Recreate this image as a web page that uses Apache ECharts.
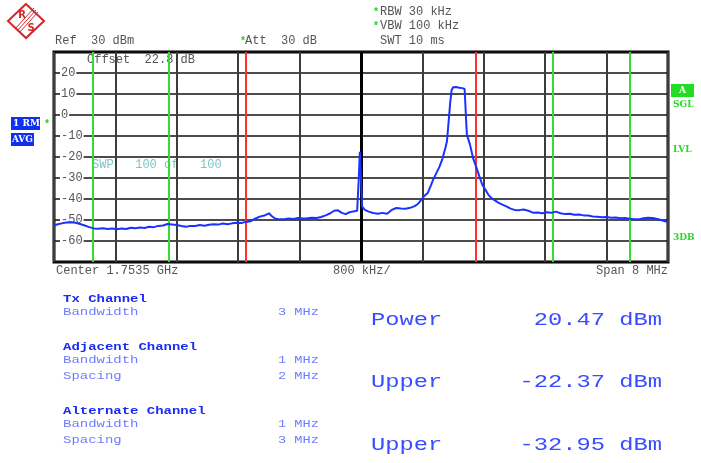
<!DOCTYPE html>
<html><head><meta charset="utf-8">
<script src="https://cdn.jsdelivr.net/npm/echarts@6/dist/echarts.min.js"></script>
<style>html,body{margin:0;padding:0;background:#fff}#c{width:701px;height:463px}</style>
</head><body><div id="c"></div>
<script>
// ---- data (frequency offset from center in MHz, level in dBm) ----
const freqMHz = [-4.00,-3.95,-3.90,-3.84,-3.78,-3.72,-3.66,-3.60,-3.54,-3.48,-3.42,-3.36,-3.30,-3.24,-3.18,-3.12,-3.06,-3.00,-2.94,-2.88,-2.82,-2.76,-2.70,-2.64,-2.58,-2.52,-2.46,-2.40,-2.34,-2.28,-2.22,-2.16,-2.10,-2.04,-1.98,-1.92,-1.86,-1.80,-1.74,-1.68,-1.62,-1.56,-1.50,-1.44,-1.38,-1.32,-1.26,-1.20,-1.16,-1.12,-1.06,-1.00,-0.94,-0.88,-0.82,-0.76,-0.70,-0.64,-0.58,-0.52,-0.46,-0.40,-0.35,-0.30,-0.25,-0.20,-0.15,-0.10,-0.05,-0.03,-0.015,0.00,0.015,0.05,0.10,0.16,0.22,0.28,0.34,0.40,0.46,0.52,0.58,0.64,0.70,0.74,0.78,0.82,0.87,0.91,0.94,0.98,1.02,1.06,1.10,1.12,1.14,1.16,1.18,1.20,1.24,1.28,1.32,1.35,1.36,1.37,1.38,1.42,1.46,1.50,1.54,1.58,1.62,1.66,1.70,1.75,1.80,1.85,1.90,1.95,2.00,2.06,2.12,2.18,2.24,2.30,2.36,2.42,2.48,2.54,2.60,2.66,2.72,2.78,2.84,2.90,2.96,3.02,3.08,3.14,3.20,3.26,3.32,3.38,3.44,3.50,3.56,3.62,3.68,3.74,3.80,3.86,3.92,3.96,4.00];
const levelDbm = [-52.6,-52.0,-51.6,-51.2,-51.1,-51.3,-51.9,-52.6,-53.4,-54.0,-54.2,-53.9,-54.3,-54.1,-54.4,-54.0,-54.3,-53.7,-53.9,-53.6,-53.8,-53.2,-53.4,-52.8,-52.6,-51.9,-52.1,-52.4,-52.9,-53.2,-52.8,-52.9,-52.4,-52.7,-52.3,-52.0,-52.2,-51.7,-52.0,-51.6,-51.3,-51.4,-50.9,-50.6,-49.4,-48.4,-47.9,-46.8,-48.2,-49.3,-49.7,-49.6,-49.3,-49.5,-49.0,-49.3,-49.2,-48.9,-49.0,-48.6,-47.8,-46.8,-45.6,-45.4,-46.6,-47.2,-46.3,-45.9,-45.6,-31.0,-17.5,-30.0,-43.6,-45.2,-46.0,-46.7,-47.0,-46.6,-47.0,-45.2,-44.3,-44.5,-44.6,-44.2,-43.4,-42.4,-40.6,-38.7,-37.1,-33.6,-30.8,-27.8,-24.8,-21.0,-15.6,-12.5,-4.0,5.0,11.8,13.2,13.3,13.0,12.8,12.4,5.0,-3.0,-9.4,-14.1,-20.5,-24.6,-29.0,-33.2,-35.5,-38.0,-39.6,-40.8,-42.0,-42.8,-43.6,-44.6,-45.2,-45.3,-45.0,-45.6,-46.5,-46.4,-46.8,-46.3,-46.6,-46.0,-46.8,-47.2,-47.0,-47.5,-47.4,-47.8,-47.9,-48.3,-48.5,-48.7,-48.6,-48.9,-48.8,-49.2,-49.0,-49.4,-49.6,-49.7,-49.2,-48.9,-49.0,-49.5,-50.1,-50.6,-51.0];
const yTickMin = -70, yTickMax = 30, yTickStep = 10;
const xMinMHz = -4, xMaxMHz = 4, xStepMHz = 0.8;
const redLinesMHz = [-1.5, 1.5];
const greenLinesMHz = [-3.5, -2.5, 2.5, 3.5];
const centerLineMHz = [0];
const tableLabels = ['Tx Channel','Bandwidth','Adjacent Channel','Bandwidth','Spacing','Alternate Channel','Bandwidth','Spacing'];
const tableValues = ['','3 MHz','','1 MHz','2 MHz','','1 MHz','3 MHz'];
const resultNames = ['Power','Upper','Upper'];
const resultValues = ['20.47 dBm','-22.37 dBm','-32.95 dBm'];

// ---- build ----
const MONO = 'Liberation Mono, DejaVu Sans Mono, monospace';
const GRAY = '#555';
function txt(x, y, text, o) {
  o = o || {};
  return {
    type: 'text', x: x, y: y, z: o.z != null ? o.z : 10, silent: true,
    scaleX: o.sx || 1,
    style: {
      text: text, fill: o.color || GRAY,
      font: (o.weight || 'normal') + ' ' + (o.size || 12) + 'px ' + (o.family || MONO),
      align: o.align || 'left', verticalAlign: 'middle'
    }
  };
}
const graphics = [];
// logo
graphics.push({type:'polygon', silent:true, shape:{points:[[26,4],[44,21],[26,38],[8,21]]}, style:{fill:'#fff', stroke:'#d42828', lineWidth:2}});
graphics.push({type:'line', silent:true, shape:{x1:36,y1:10,x2:17,y2:31}, style:{stroke:'#d42828', lineWidth:1}});
graphics.push({type:'line', silent:true, shape:{x1:38,y1:12,x2:19,y2:33}, style:{stroke:'#d42828', lineWidth:1}});
graphics.push({type:'line', silent:true, shape:{x1:34,y1:8,x2:15,y2:29}, style:{stroke:'#d42828', lineWidth:1}});
graphics.push(txt(22, 15, 'R', {color:'#d42828', weight:'bold', size:10, family:'DejaVu Sans', align:'center'}));
graphics.push(txt(31, 28, 'S', {color:'#d42828', weight:'bold', size:10, family:'DejaVu Sans', align:'center'}));
// header texts
graphics.push(txt(55, 41, 'Ref  30 dBm'));
graphics.push(txt(240, 41, '*', {color:'#22cc22', weight:'bold', size:10}));
graphics.push(txt(245, 41, 'Att  30 dB'));
graphics.push(txt(373, 12, '*', {color:'#22cc22', weight:'bold', size:10}));
graphics.push(txt(380, 12, 'RBW 30 kHz'));
graphics.push(txt(373, 26, '*', {color:'#22cc22', weight:'bold', size:10}));
graphics.push(txt(380, 26, 'VBW 100 kHz'));
graphics.push(txt(380, 41, 'SWT 10 ms'));
// in-plot texts (beneath grid lines)
graphics.push(txt(87, 60, 'Offset  22.8 dB', {z:-1}));
graphics.push(txt(92, 165, 'SWP   100 of   100', {z:-1, color:'#7cc4c8'}));
// bottom axis texts
graphics.push(txt(56, 271, 'Center 1.7535 GHz'));
graphics.push(txt(333, 271, '800 kHz/'));
graphics.push(txt(668, 271, 'Span 8 MHz', {align:'right'}));
// left boxes
graphics.push({type:'rect', silent:true, shape:{x:11,y:117,width:29,height:13}, style:{fill:'#1030f0'}});
graphics.push(txt(13, 123.5, '1 RM', {color:'#fff', weight:'bold', size:9, family:'DejaVu Serif'}));
graphics.push({type:'rect', silent:true, shape:{x:11,y:133,width:23,height:13}, style:{fill:'#1030f0'}});
graphics.push(txt(12, 139.5, 'AVG', {color:'#fff', weight:'bold', size:9, family:'DejaVu Serif'}));
graphics.push(txt(44, 124, '*', {color:'#22cc22', weight:'bold', size:10}));
// right indicators
graphics.push({type:'rect', silent:true, shape:{x:671,y:84,width:23,height:13}, style:{fill:'#22dd22'}});
graphics.push(txt(682.5, 90.5, 'A', {color:'#fff', weight:'bold', size:9, family:'DejaVu Serif', align:'center'}));
graphics.push(txt(673, 105, 'SGL', {color:'#22dd22', weight:'bold', size:9, family:'DejaVu Serif'}));
graphics.push(txt(673, 150, 'LVL', {color:'#22dd22', weight:'bold', size:9, family:'DejaVu Serif'}));
graphics.push(txt(673, 238, '3DB', {color:'#22dd22', weight:'bold', size:9, family:'DejaVu Serif'}));
// table
const tableY = [299, 312, 347, 360, 376, 411, 424, 440];
tableLabels.forEach(function (l, i) {
  const header = tableValues[i] === '';
  graphics.push(txt(63, tableY[i], l, {color: header ? '#1a2cf0' : '#6e7cff', weight: header ? 'bold' : 'normal', size:11, sx:1.27}));
  if (!header) graphics.push(txt(278, tableY[i], tableValues[i], {color:'#6e7cff', size:11, sx:1.24}));
});
const resY = [320, 382, 445];
resultNames.forEach(function (n, i) {
  graphics.push(txt(371, resY[i], n, {color:'#3a4cff', size:19, sx:1.25}));
  graphics.push(txt(662, resY[i], resultValues[i], {color:'#3a4cff', size:19, sx:1.25, align:'right'}));
});

const markData = [];
centerLineMHz.forEach(function (v) { markData.push({xAxis: v, lineStyle: {color:'#000', width:3, type:'solid'}}); });
redLinesMHz.forEach(function (v) { markData.push({xAxis: v, lineStyle: {color:'#ff3030', width:2, type:'solid'}}); });
greenLinesMHz.forEach(function (v) { markData.push({xAxis: v, lineStyle: {color:'#33dd33', width:2, type:'solid'}}); });

const chart = echarts.init(document.getElementById('c'), null, {renderer:'canvas'});
chart.setOption({
  backgroundColor: '#fff',
  animation: false,
  grid: {left:54, top:52, right:33, bottom:201, show:true, borderColor:'#000', borderWidth:3, backgroundColor:'transparent'},
  xAxis: {
    type:'value', min:xMinMHz, max:xMaxMHz, interval:xStepMHz,
    axisLine:{show:false}, axisTick:{show:false}, axisLabel:{show:false},
    splitLine:{show:true, lineStyle:{color:'#3c3c3c', width:2}}
  },
  yAxis: {
    type:'value', min:yTickMin, max:yTickMax, interval:yTickStep,
    axisLine:{show:false}, axisTick:{show:false},
    splitLine:{show:true, lineStyle:{color:'#111', width:1.5}},
    axisLabel:{inside:true, margin:6, showMinLabel:false, showMaxLabel:false, color:GRAY,
      fontFamily:'Liberation Mono', fontSize:12, backgroundColor:'#fff', padding:[0,1,0,1]}
  },
  series: [{
    type:'line', data: freqMHz.map(function (f, i) { return [f, levelDbm[i]]; }),
    showSymbol:false, lineStyle:{color:'#1a32ff', width:2}, z:3,
    markLine:{silent:true, symbol:['none','none'], label:{show:false}, data: markData, z:2}
  }],
  graphic: graphics
});
</script></body></html>
